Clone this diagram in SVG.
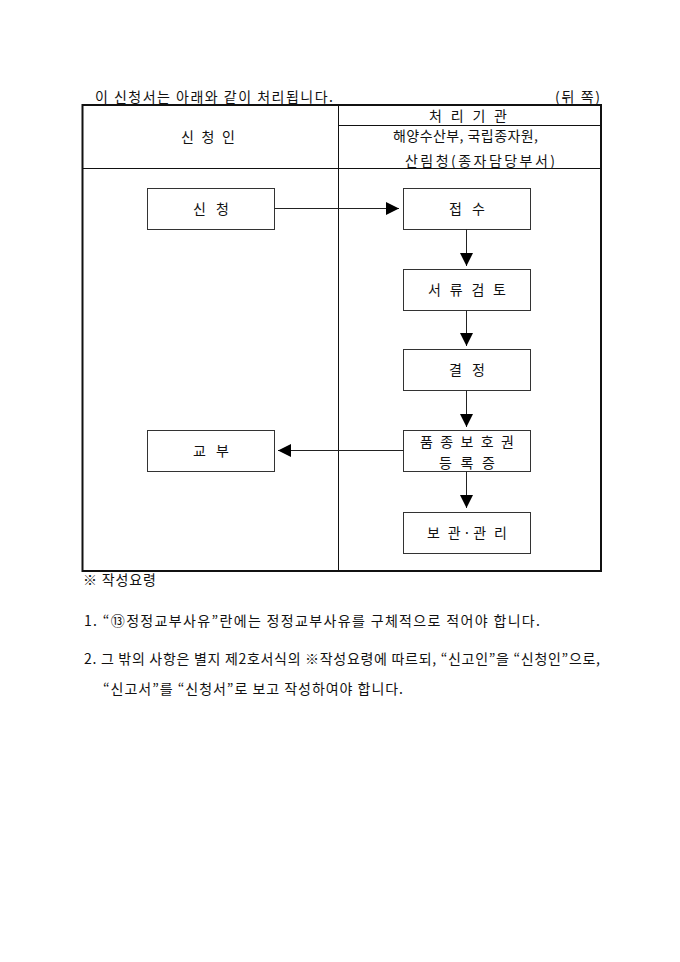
<svg xmlns="http://www.w3.org/2000/svg" width="680" height="962" viewBox="0 0 680 962">
<style>
text{font-family:"Noto Sans CJK KR","Noto Sans",sans-serif;font-size:14px;fill:#111}
.c{text-anchor:middle}
.box{fill:#fff;stroke:#333;stroke-width:1}
.ln{stroke:#222;stroke-width:1;fill:none}
.tbl{stroke:#111;fill:none}
</style>
<defs>
<marker id="ah" viewBox="0 0 13 13" refX="13" refY="6.5" markerWidth="13" markerHeight="13" markerUnits="userSpaceOnUse" orient="auto">
<path d="M0,0 L13,6.5 L0,13 Z" fill="#000"/>
</marker>
</defs>
<rect width="680" height="962" fill="#fff"/>
<g id="title">
<text x="95" y="102" textLength="238" lengthAdjust="spacing">이 신청서는 아래와 같이 처리됩니다.</text>
<text x="555" y="102" textLength="45" lengthAdjust="spacing">(뒤 쪽)</text>
</g>
<g id="table">
<rect class="tbl" x="82.5" y="105" width="518.5" height="466" stroke-width="2"/>
<line class="tbl" x1="338.5" y1="105" x2="338.5" y2="571" stroke-width="1"/>
<line class="tbl" x1="338" y1="125.5" x2="601" y2="125.5" stroke-width="1"/>
<line class="tbl" x1="82" y1="168.5" x2="601" y2="168.5" stroke-width="1"/>
<text class="c" x="208" y="142" textLength="54" lengthAdjust="spacing">신 청 인</text>
<text class="c" x="468" y="121" textLength="78" lengthAdjust="spacing">처 리 기 관</text>
<text x="393" y="141" textLength="145" lengthAdjust="spacing">해양수산부, 국립종자원,</text>
<text x="405" y="166" textLength="150" lengthAdjust="spacing">산림청(종자담당부서)</text>
</g>
<g id="n-apply">
<rect class="box" x="147.5" y="188.5" width="127" height="41"/>
<text class="c" x="211" y="214" textLength="36" lengthAdjust="spacing">신 청</text>
</g>
<g id="n-receive">
<rect class="box" x="403.5" y="188.5" width="127" height="41"/>
<text class="c" x="467" y="214" textLength="36" lengthAdjust="spacing">접 수</text>
</g>
<g id="n-review">
<rect class="box" x="403.5" y="269.5" width="127" height="41"/>
<text class="c" x="467" y="295" textLength="78" lengthAdjust="spacing">서 류 검 토</text>
</g>
<g id="n-decide">
<rect class="box" x="403.5" y="349.5" width="127" height="41"/>
<text class="c" x="467" y="375" textLength="36" lengthAdjust="spacing">결 정</text>
</g>
<g id="n-certificate">
<rect class="box" x="403.5" y="430.5" width="127" height="41"/>
<text class="c" x="467" y="446.5" textLength="94" lengthAdjust="spacing">품 종 보 호 권</text>
<text class="c" x="467" y="467.5" textLength="56" lengthAdjust="spacing">등 록 증</text>
</g>
<g id="n-issue">
<rect class="box" x="147.5" y="430.5" width="127" height="41"/>
<text class="c" x="211" y="456" textLength="36" lengthAdjust="spacing">교 부</text>
</g>
<g id="n-keep">
<rect class="box" x="403.5" y="512.5" width="127" height="41"/>
<text class="c" x="467" y="538" textLength="80" lengthAdjust="spacing">보 관·관 리</text>
</g>
<g id="connectors">
<path class="ln" d="M274.5,208.5 H399" marker-end="url(#ah)"/>
<path class="ln" d="M466.5,229.5 V266" marker-end="url(#ah)"/>
<path class="ln" d="M466.5,310.5 V346" marker-end="url(#ah)"/>
<path class="ln" d="M466.5,390.5 V427" marker-end="url(#ah)"/>
<path class="ln" d="M403.5,450.5 H278" marker-end="url(#ah)"/>
<path class="ln" d="M466.5,471.5 V508" marker-end="url(#ah)"/>
</g>
<g id="notes">
<text x="83" y="585" textLength="73" lengthAdjust="spacing">※ 작성요령</text>
<text x="84" y="626" textLength="456" lengthAdjust="spacing">1. “⑬정정교부사유”란에는 정정교부사유를 구체적으로 적어야 합니다.</text>
<text x="84" y="664" textLength="516" lengthAdjust="spacing">2. 그 밖의 사항은 별지 제2호서식의 ※작성요령에 따르되, “신고인”을 “신청인”으로,</text>
<text x="103" y="694" textLength="300" lengthAdjust="spacing">“신고서”를 “신청서”로 보고 작성하여야 합니다.</text>
</g>
</svg>
